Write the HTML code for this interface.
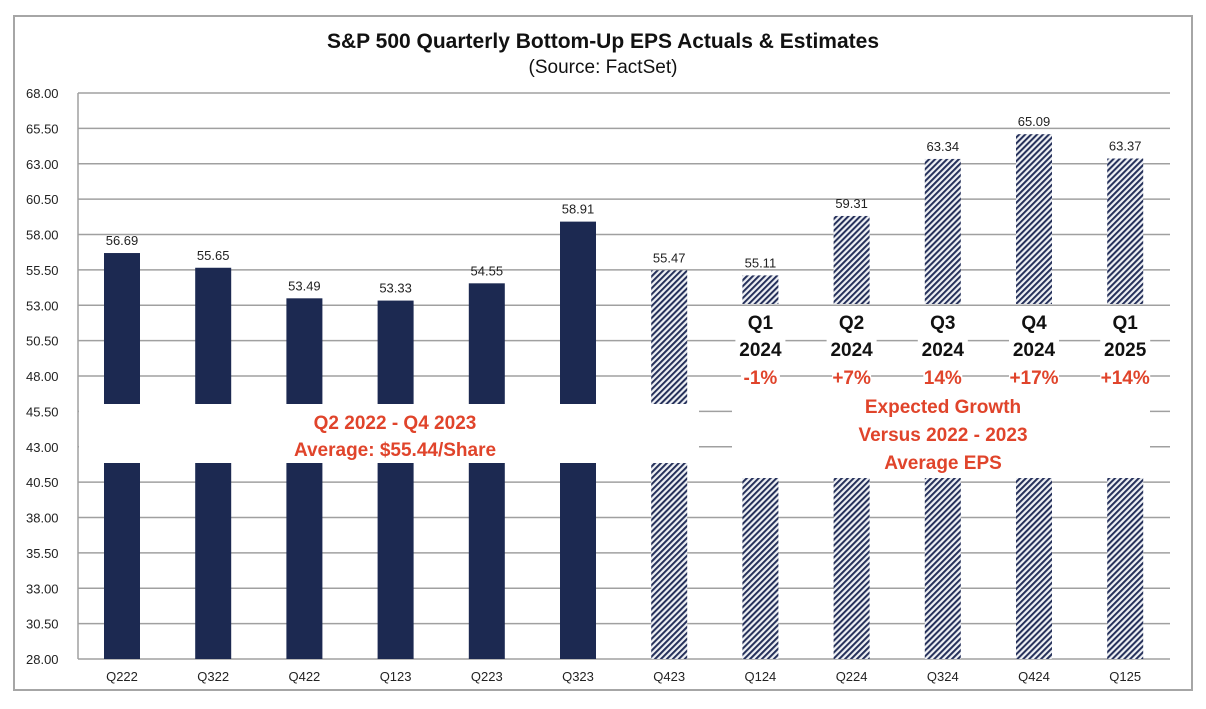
<!DOCTYPE html>
<html><head><meta charset="utf-8"><style>
body{margin:0;background:#fff;width:1206px;height:704px;overflow:hidden;font-family:"Liberation Sans",Arial,sans-serif}
</style></head><body>
<svg width="1206" height="704" xmlns="http://www.w3.org/2000/svg">
<defs>
<pattern id="hatch" patternUnits="userSpaceOnUse" width="4.2" height="4.2" patternTransform="rotate(45)">
<rect width="4.2" height="4.2" fill="#eef0f4"/>
<rect width="2" height="4.2" fill="#25305a"/>
</pattern>
</defs>
<rect x="14" y="16" width="1178" height="674" fill="#fff" stroke="#a6a6a6" stroke-width="2"/>
<text x="603" y="48" text-anchor="middle" font-size="21" font-weight="bold" fill="#111">S&amp;P 500 Quarterly  Bottom-Up EPS Actuals &amp; Estimates</text>
<text x="603" y="73" text-anchor="middle" font-size="19" fill="#111">(Source: FactSet)</text>
<g id="grid"></g>
<g id="bars"></g>
<g id="overlay"></g>
</svg>
<script>
const categories=["Q222","Q322","Q422","Q123","Q223","Q323","Q423","Q124","Q224","Q324","Q424","Q125"];
const values=[56.69,55.65,53.49,53.33,54.55,58.91,55.47,55.11,59.31,63.34,65.09,63.37];
const valueLabels=["56.69","55.65","53.49","53.33","54.55","58.91","55.47","55.11","59.31","63.34","65.09","63.37"];
const isEstimate=[false,false,false,false,false,false,true,true,true,true,true,true];
const yTicks=[28,30.5,33,35.5,38,40.5,43,45.5,48,50.5,53,55.5,58,60.5,63,65.5,68];
const yMin=28,yMax=68;
const NS="http://www.w3.org/2000/svg";
const pL=78,pR=1170,pT=93,pB=659;
const yS=v=>pB-(v-yMin)/(yMax-yMin)*(pB-pT);
const xc=i=>122+91.2*i;
function mk(tag,attrs,parent){const e=document.createElementNS(NS,tag);for(const k in attrs)e.setAttribute(k,attrs[k]);parent.appendChild(e);return e;}
const grid=document.getElementById('grid'),bars=document.getElementById('bars'),ov=document.getElementById('overlay');
yTicks.forEach(t=>{
  const l=mk('line',{x1:pL,x2:pR,y1:yS(t),y2:yS(t),stroke:'#a0a0a0','stroke-width':1.5},grid);
  
  
  const tx=mk('text',{x:26,y:yS(t)+5,'font-size':13,fill:'#222'},grid);
  tx.textContent=t.toFixed(2);
  
  
});
mk('line',{x1:pL,x2:pL,y1:pT,y2:pB,stroke:'#a0a0a0','stroke-width':1.5},grid);
const bw=36;
categories.forEach((c,i)=>{
  const r=mk('rect',{x:xc(i)-bw/2,y:yS(values[i]),width:bw,height:pB-yS(values[i]),fill:isEstimate[i]?'url(#hatch)':'#1c2951'},bars);
  
  
  const lt=mk('text',{x:xc(i),y:yS(values[i])-8,'text-anchor':'middle','font-size':13,fill:'#222'},bars);
  lt.textContent=valueLabels[i];
  
  
  const ct=mk('text',{x:xc(i),y:681,'text-anchor':'middle','font-size':13,fill:'#222'},bars);
  ct.textContent=c;
  
  
});
mk('rect',{x:79,y:404,width:620,height:59,fill:'#fff'},ov);
mk('rect',{x:732,y:304,width:418,height:174,fill:'#fff'},ov);
[53,50.5,48].forEach(t=>{mk('line',{x1:732,x2:1150,y1:yS(t),y2:yS(t),stroke:'#a0a0a0','stroke-width':1.5},ov);});
mk('rect',{x:732,y:392,width:418,height:86,fill:'#fff'},ov);
function txt(s,x,yy,fs,col,name){const t=mk('text',{x:x,y:yy,'text-anchor':'middle','font-size':fs,'font-weight':'bold',fill:col},ov);t.textContent=s;


return t;}
const qLabels=["Q1","Q2","Q3","Q4","Q1"];
const qYears=["2024","2024","2024","2024","2025"];
const growth=["-1%","+7%","14%","+17%","+14%"];
qLabels.forEach((q,k)=>{
  const i=k+7,x=xc(i);
  [[q,329,'#111'],[qYears[k],356,'#111'],[growth[k],384,'#e0442b']].forEach(([s,yy,col])=>{
    const w=s.length*11+6;
    mk('rect',{x:x-w/2,y:yy-19,width:w,height:24,fill:'#fff'},ov);
    txt(s,x,yy,19,col,'growth-annotation');
  });
});
txt("Q2 2022 - Q4 2023",395,429,19,'#e0442b','average-annotation');
txt("Average: $55.44/Share",395,456,19,'#e0442b','average-annotation');
txt("Expected Growth",943,413,19,'#e0442b','expected-growth-note');
txt("Versus 2022 - 2023",943,441,19,'#e0442b','expected-growth-note');
txt("Average EPS",943,469,19,'#e0442b','expected-growth-note');
</script>
</body></html>
